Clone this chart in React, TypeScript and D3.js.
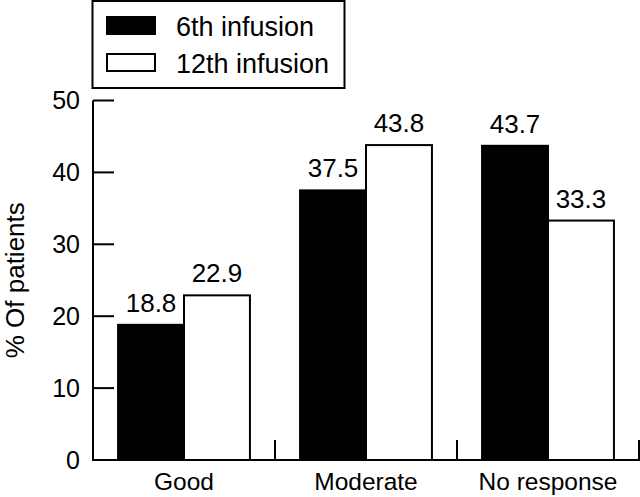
import React from "react";
import * as d3 from "d3";

const categories = ["Good", "Moderate", "No response"];
const seriesNames = ["6th infusion", "12th infusion"];
const sixth = [18.8, 37.5, 43.7];
const twelfth = [22.9, 43.8, 33.3];
const yTicks = [0, 10, 20, 30, 40, 50];

const W = 640;
const H = 497;
const font = "'Liberation Sans', Arial, sans-serif";

export default function App() {
  const left = 93,
    right = 639,
    top = 100.5,
    bottom = 460;

  const x = d3.scaleBand<string>().domain(categories).range([left, right]);
  const xs = d3
    .scaleBand<string>()
    .domain(seriesNames)
    .range([0, x.bandwidth()])
    .paddingOuter(0.38);
  const y = d3.scaleLinear().domain([0, 50]).range([bottom, top]);

  const values = [sixth, twelfth];
  const fills = ["#000", "#fff"];

  return (
    <svg
      width={W}
      height={H}
      style={{ position: "absolute", left: 0, top: 0, background: "#fff" }}
    >
      {/* bars */}
      {categories.map((c, i) => (
        <g key={c} transform={`translate(${x(c)},0)`}>
          {seriesNames.map((s, j) => {
            const v = values[j][i];
            const bx = xs(s) ?? 0;
            return (
              <g key={s}>
                <rect
                  x={bx}
                  y={y(v)}
                  width={xs.bandwidth()}
                  height={y(0) - y(v)}
                  fill={fills[j]}
                  stroke="#000"
                  strokeWidth={2}
                />
                <text
                  x={bx + xs.bandwidth() / 2}
                  y={y(v) - 13}
                  textAnchor="middle"
                  fontFamily={font}
                  fontSize={26}
                >
                  {v.toFixed(1)}
                </text>
              </g>
            );
          })}
          <text
            x={x.bandwidth() / 2}
            y={490}
            textAnchor="middle"
            fontFamily={font}
            fontSize={24.5}
          >
            {c}
          </text>
          {/* separator tick */}
          <line
            x1={x.bandwidth()}
            x2={x.bandwidth()}
            y1={bottom}
            y2={bottom - 20}
            stroke="#000"
            strokeWidth={2}
          />
        </g>
      ))}

      {/* y axis */}
      <line x1={left} x2={left} y1={top} y2={bottom} stroke="#000" strokeWidth={2} />
      <line x1={left - 1} x2={W} y1={bottom} y2={bottom} stroke="#000" strokeWidth={2} />
      {yTicks.map((t) => (
        <g key={t} transform={`translate(0,${y(t)})`}>
          {t > 0 && <line x1={left} x2={left + 21} stroke="#000" strokeWidth={2} />}
          <text
            x={80}
            dy="0.35em"
            textAnchor="end"
            fontFamily={font}
            fontSize={25}
          >
            {t}
          </text>
        </g>
      ))}
      <text
        transform={`translate(24,${(top + bottom) / 2}) rotate(-90)`}
        textAnchor="middle"
        fontFamily={font}
        fontSize={26}
      >
        % Of patients
      </text>

      {/* legend */}
      <rect x={92.5} y={1} width={252} height={87} fill="#fff" stroke="#000" strokeWidth={2} />
      {seriesNames.map((s, j) => (
        <g key={s} transform={`translate(0,${17 + j * 37})`}>
          <rect
            x={107}
            y={0}
            width={48}
            height={17}
            fill={fills[j]}
            stroke="#000"
            strokeWidth={2}
          />
          <text x={176} y={19} fontFamily={font} fontSize={27}>
            {s}
          </text>
        </g>
      ))}
    </svg>
  );
}
